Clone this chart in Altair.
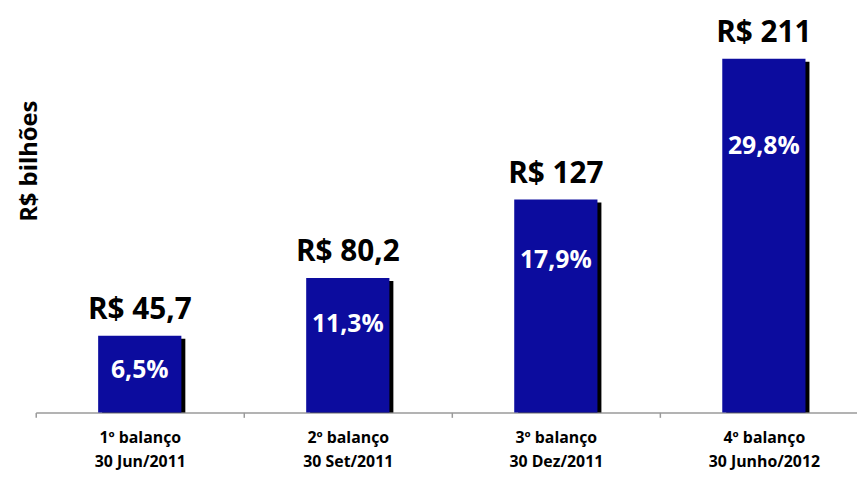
import json
import altair as alt
import pandas as pd

categories = ["1º balanço|30 Jun/2011", "2º balanço|30 Set/2011",
              "3º balanço|30 Dez/2011", "4º balanço|30 Junho/2012"]
values = [45.7, 80.2, 127, 211]
value_labels = ["R$ 45,7", "R$ 80,2", "R$ 127", "R$ 211"]
pct_labels = ["6,5%", "11,3%", "17,9%", "29,8%"]

df = pd.DataFrame({"idx": list(range(len(categories))), "cat": categories,
                   "value": values, "vlabel": value_labels, "plabel": pct_labels})

FONT = "Open Sans"
BLUE = "#0c0c9e"
W = 829
STEP = 210

cat_expr = json.dumps(categories, ensure_ascii=False)
xscale = alt.Scale(domain=[0, W / STEP], nice=False, zero=False)
xaxis = alt.Axis(title=None, values=list(range(len(categories))), labelOffset=STEP / 2,
                 labelAngle=0, labelAlign="center",
                 labelExpr=f"split({cat_expr}[round(datum.value)], '|')",
                 labelFont=FONT, labelFontWeight="bold", labelFontSize=16,
                 labelColor="black", labelLineHeight=25, labelPadding=12,
                 domainColor="#9a9a9a", domainWidth=1.5, grid=False,
                 ticks=True, tickColor="#9a9a9a", tickWidth=1.5, tickSize=5)
y = alt.Y("value:Q", scale=alt.Scale(domain=[0, 229.3], nice=False),
          axis=alt.Axis(title="R$ bilhões", domain=False, ticks=False, labels=False,
                        grid=False, titleFont=FONT, titleFontSize=24,
                        titleFontWeight="bold", titleColor="black",
                        titleX=-6, titleY=134, titleAngle=270,
                        titleBaseline="middle", titleAlign="center"))

base = alt.Chart(df).transform_calculate(
    xs="datum.idx + 0.3", xe="datum.idx + 0.7", xc="datum.idx + 0.5",
    pos="0.81*datum.value - 12")

xs = alt.X("xs:Q", scale=xscale, axis=xaxis)
xe = alt.X2("xe:Q")
xc = alt.X("xc:Q", scale=xscale, axis=xaxis)

shadow = base.mark_rect(color="black", xOffset=4, x2Offset=4, yOffset=3).encode(
    x=xs, x2=xe, y=y, y2=alt.datum(0))
bars = base.mark_rect(color=BLUE).encode(x=xs, x2=xe, y=y, y2=alt.datum(0))
vtext = base.mark_text(font=FONT, fontWeight="bold", fontSize=30, color="black",
                       baseline="alphabetic", dy=-17).encode(
    x=xc, y=y, text="vlabel:N")
ptext = base.mark_text(font=FONT, fontWeight="bold", fontSize=25, color="white",
                       baseline="middle").encode(
    x=xc, y=alt.Y("pos:Q"), text="plabel:N")

chart = alt.layer(shadow, bars, vtext, ptext).properties(
    width=W, height=388,
    autosize=alt.AutoSizeParams(type="none"),
    padding={"left": 28, "top": 18, "right": 0, "bottom": 61},
).configure_view(stroke=None)

chart.save("out.html", embed_options={"renderer": "svg", "actions": False})
